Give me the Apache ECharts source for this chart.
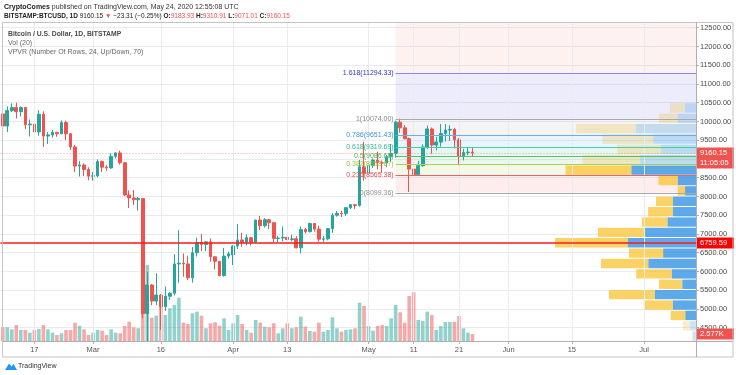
<!DOCTYPE html>
<html><head><meta charset="utf-8">
<script src="https://cdn.jsdelivr.net/npm/echarts@6/dist/echarts.min.js"></script>
<style>html,body{margin:0;padding:0;background:#fff}#c{width:736px;height:375px}</style>
</head><body><div id="c"></div><script>
// ---------- data ----------
const firstDay = [2020, 1, 10];   // Feb 10 2020 (UTC)
const dayCount = 154;             // through Jul 12 2020
const tickDates  = ['2020-02-17','2020-03-01','2020-03-16','2020-04-01','2020-04-13','2020-05-01','2020-05-11','2020-05-21','2020-06-01','2020-06-15','2020-07-01'];
const tickLabels = ['17','Mar','16','Apr','13','May','11','21','Jun','15','Jul'];
const priceTicks = [4500,5000,5500,6000,6500,7000,7500,8000,8500,9000,9500,10000,10500,11000,11500,12000,12500];

const opens  = [10200,9880,10290,10370,10260,10370,9910,9930,9720,10190,9610,9640,9710,9670,9970,9670,9320,8810,8840,8720,
  8540,8550,8930,8780,8760,9070,9160,8900,8040,7960,7910,7945,4880,5640,5210,5370,5060,5340,5420,6200,
  6220,6200,5830,6500,6770,6720,6790,6390,6270,5890,6410,6440,6680,6840,6780,6900,6780,7370,7220,7380,
  7300,6880,6890,6910,6850,6870,6630,7120,7060,7280,7130,6860,6870,7140,7500,7550,7540,7700,7780,7760,
  8790,8620,8830,8970,8900,8890,9060,9150,9980,9830,9540,8730,8580,8820,9320,9800,9370,9450,9680,9770,
  9790,9510,9080,9170,9183.93];
const highs  = [10240,10400,10480,10500,10400,10390,10050,9960,10300,10270,9720,9770,9720,10030,10020,9690,9370,8950,8880,8780,
  8650,8990,8960,8840,9150,9180,9220,8910,8160,8170,7990,7960,5980,5670,5950,5400,5600,5450,6460,7100,
  6480,6420,6650,6900,7000,6790,6880,6400,6280,6630,6530,6700,7260,7030,6990,6910,7380,7480,7420,7400,
  7320,6950,7200,6920,6980,6940,7200,7160,7300,7290,7220,6950,7160,7560,7610,7620,7720,7790,7790,8970,
  9460,9060,9010,9190,8960,9100,9400,10020,10074,9900,9570,8980,8950,9390,9890,9840,9590,9930,9930,9900,
  9830,9560,9270,9320,9310.91];
const lows   = [9730,9720,10250,10080,10130,9800,9600,9480,9620,9320,9400,9570,9590,9660,9500,9240,8650,8530,8540,8430,
  8420,8510,8650,8680,8740,9010,8850,8010,7690,7770,7620,4750,3850,5100,5100,4440,4950,5240,5360,5700,
  5860,5770,5700,6400,6540,6540,6260,6050,5870,5860,6340,6170,6600,6660,6700,6690,6770,7100,7170,7130,
  6780,6780,6800,6570,6800,6620,6480,7010,7040,7060,6790,6790,6830,7030,7460,7450,7480,7660,7670,7730,
  8420,8610,8760,8720,8630,8780,8940,9030,9700,9520,8120,8100,8550,8800,9260,9140,9230,9330,9470,9480,
  9280,8830,8960,9100,9071.01];
const closes = [9880,10290,10370,10260,10370,9910,9930,9720,10190,9610,9640,9710,9670,9970,9670,9320,8810,8840,8720,8540,
  8550,8930,8780,8760,9070,9160,8900,8040,7960,7910,7945,4880,5640,5210,5370,5060,5340,5420,6200,6220,
  6200,5830,6500,6770,6720,6790,6390,6270,5890,6410,6470,6680,6840,6780,6900,6780,7370,7220,7380,7300,
  6880,6890,6910,6850,6870,6630,7120,7060,7280,7130,6860,6870,7140,7500,7550,7540,7700,7780,7760,8790,
  8620,8830,8970,8900,8890,9060,9150,9980,9830,9540,8730,8580,8820,9320,9800,9370,9450,9680,9770,9790,
  9510,9080,9170,9183.93,9160.15];
const volumes = [5040,5040,4300,5890,4050,4050,3050,4050,4420,5890,4300,3050,2210,2830,4050,4050,6730,5630,4300,2210,
  3050,4050,3790,2210,4300,3050,2830,5520,7100,5040,4670,30000,27970,8570,9310,13250,9570,12030,13250,15930,
  6730,6260,10190,10780,9310,4670,6510,6880,5630,8350,4050,6510,9570,6260,4050,3050,7730,6730,5260,5040,
  6510,2830,4670,6510,4670,5040,8940,5260,3680,3420,6730,3420,4050,8720,4670,3420,4050,4300,4670,14090,
  12880,5520,3790,5520,5890,5520,8350,13250,10560,6730,16560,17920,7730,7360,10780,9570,4050,5520,6990,6990,
  6990,9200,4670,3050,2577];

const lastPrice = 9160.15, lastVolume = 2577, countdown = '11:05:05';
const pocPrice = 6759.59;

// Fibonacci retracement drawing
const fibStart = '2020-05-07';
const fibHigh = 10074.00, fibLow = 8099.36;
const fibLevels = [0, 0.236, 0.382, 0.5, 0.618, 0.786, 1, 1.618, 2.618];
const fibColors = ['#8f8f8f','#ea4d4d','#9cc23a','#54b257','#2fb98b','#3f95d8','#8a8a8a','#3535c8','#ea4d4d'];
const fibFills  = [null,'rgba(239,83,80,0.10)','rgba(156,204,60,0.12)','rgba(76,175,80,0.11)','rgba(38,190,150,0.12)',
  'rgba(90,170,230,0.13)','rgba(128,128,128,0.09)','rgba(70,70,210,0.10)','rgba(239,83,80,0.08)'];
const fibLineColors = ['#a8a8a8','#f06262','#a9d35a','#5cc060','#46d0a6','#6aaee2','#a8a8a8','#8a8ae6','#f06262'];

// Volume profile (visible range), 24 rows, values in thousand BTC
const vpHigh = 10500, vpLow = 3858.5, vpRows = 24;
const vpUp   = [5.1,8.5,27.9,19.9,16.3,26.0,30.1,8.5,5.1,10.8,10.8,13.3,23.7,31.8,15.3,22.2,11.3,6.4,19.2,10.8,5.0,2.8,1.4,0.9];
const vpDown = [7.0,8.7,27.9,23.6,20.3,26.8,30.6,9.0,3.4,7.8,11.5,11.8,21.9,33.8,15.9,22.0,16.5,10.8,21.3,13.5,6.8,3.3,0.5,0.5];
const vaFirst = 6, vaLast = 20;

// ---------- build ----------
const F = '"Liberation Sans", Arial, sans-serif';
const dates = [];
for (let i = 0; i < dayCount; i++) {
  dates.push(new Date(Date.UTC(firstDay[0], firstDay[1], firstDay[2] + i)).toISOString().slice(0, 10));
}
const yMin = 4145.3, yMax = 12633.3;
const UP = '#26a69a', DN = '#ef5350';
const clampY = v => Math.min(yMax, Math.max(yMin, v));
const candles = opens.map((o, i) => [o, closes[i], clampY(lows[i]), clampY(highs[i])]);
const volData = volumes.map((v, i) => ({ value: v, itemStyle: { color: closes[i] >= opens[i] ? 'rgba(38,166,154,0.5)' : 'rgba(239,83,80,0.5)' } }));
const fibIdx = dates.indexOf(fibStart);
const fibPrices = fibLevels.map(l => fibLow + l * (fibHigh - fibLow));
const vpStep = (vpHigh - vpLow) / vpRows;
const isTick = (i, v) => tickDates.indexOf(v) >= 0;
const GRID = '#e8ecf2';

const T = (left, top, text, size, weight, color, rich) => ({ left, top, padding: 0, text,
  textStyle: { fontSize: size, fontWeight: weight, color, fontFamily: F, rich } });

const option = {
  animation: false,
  backgroundColor: '#ffffff',
  title: [
    T(4, 3.5, '{b|CryptoComes} published on TradingView.com, May 24, 2020 12:55:08 UTC', 7, 'normal', '#333',
      { b: { fontSize: 7, fontWeight: 'bold', color: '#222', fontFamily: F } }),
    T(4, 12.5, '{b|BITSTAMP:BTCUSD, 1D} 9160.15 {r|▼} −23.31 (−0.25%) {b|O:}{r|9183.93} {b|H:}{r|9310.91} {b|L:}{r|9071.01} {b|C:}{r|9160.15}', 6.5, 'normal', '#222',
      { b: { fontSize: 6.5, fontWeight: 'bold', color: '#222', fontFamily: F }, r: { fontSize: 6.5, color: '#ef5350', fontFamily: F } }),
    T(8, 30.5, 'Bitcoin / U.S. Dollar, 1D, BITSTAMP', 6.8, 'bold', '#4a4a4a'),
    T(8, 39.5, 'Vol (20)', 7, 'normal', '#666'),
    T(8, 48.8, 'VPVR (Number Of Rows, 24, Up/Down, 70)', 7, 'normal', '#666'),
    T(18, 362.5, 'TradingView', 7, 'normal', '#333')
  ],
  grid: { left: 0.5, right: 40, top: 22.7, bottom: 34, containLabel: false },
  xAxis: [
    { type: 'category', data: dates, boundaryGap: true,
      axisLine: { show: false },
      axisTick: { show: true, alignWithLabel: true, interval: isTick, length: 3, lineStyle: { color: '#b0b0b0' } },
      axisLabel: { interval: isTick, formatter: v => tickLabels[tickDates.indexOf(v)], color: '#555', fontSize: 7.5, fontFamily: F, margin: 5 },
      splitLine: { show: false } },
    { type: 'value', min: 0, max: 323.6, inverse: true, show: false }
  ],
  yAxis: [
    { type: 'value', position: 'right', min: yMin, max: yMax,
      axisLine: { show: false },
      axisTick: { show: true, customValues: priceTicks, length: 3, lineStyle: { color: '#b0b0b0' } },
      axisLabel: { customValues: priceTicks, formatter: v => v.toFixed(2), color: '#4a4a4a', fontSize: 7.5, fontFamily: F, margin: 4 },
      splitLine: { show: true, lineStyle: { color: GRID, width: 1 } } },
    { type: 'value', min: 0, max: 117000, show: false }
  ],
  series: [
    { type: 'line', name: 'vgrid', xAxisIndex: 0, yAxisIndex: 0, data: [], z: 0, silent: true,
      markLine: { silent: true, symbol: ['none', 'none'], animation: false, label: { show: false },
        lineStyle: { color: GRID, width: 1, type: 'solid' },
        data: tickDates.map(d => ({ xAxis: d })) } },
    { type: 'custom', name: 'fibBands', xAxisIndex: 0, yAxisIndex: 0, z: 1, silent: true,
      encode: { x: 0, y: 1 },
      data: fibPrices.slice(0, -1).map((p, k) => [fibIdx, p, k]),
      renderItem: (params, api) => {
        const k = api.value(2), cs = params.coordSys;
        const p0 = api.coord([api.value(0), fibPrices[k]]);
        const p1 = api.coord([api.value(0), fibPrices[k + 1]]);
        const xL = p0[0], xR = cs.x + cs.width;
        const yB = Math.min(p0[1], cs.y + cs.height), yT = Math.max(p1[1], cs.y);
        if (yB <= yT) return null;
        return { type: 'rect', shape: { x: xL, y: yT, width: xR - xL, height: yB - yT }, style: { fill: fibFills[k + 1] } };
      } },
    { type: 'bar', name: 'Vol', xAxisIndex: 0, yAxisIndex: 1, data: volData, barWidth: '80%', z: 2, silent: true,
      markLine: { silent: true, symbol: ['none', 'none'], animation: false,
        data: [{ yAxis: lastVolume, lineStyle: { color: 'rgba(0,0,0,0)', width: 0 },
          label: { show: true, position: 'end', distance: 1, formatter: '2.577K', backgroundColor: '#ef5350', color: '#fff',
            fontSize: 7.5, fontFamily: F, padding: [2, 4, 1, 3], width: 30 } }] } },
    { type: 'candlestick', name: 'BTCUSD', xAxisIndex: 0, yAxisIndex: 0, data: candles, barWidth: '70%', z: 3, clip: true, silent: true,
      itemStyle: { color: UP, color0: DN, borderColor: UP, borderColor0: DN, borderWidth: 1 } },
    { type: 'custom', name: 'VPVR', xAxisIndex: 1, yAxisIndex: 0, z: 4, silent: true,
      encode: { x: 0, y: 1 },
      data: vpUp.map((u, i) => [u, vpHigh - (i + 0.5) * vpStep, i, vpDown[i]]),
      renderItem: (params, api) => {
        const i = api.value(2), up = api.value(0), dn = api.value(3), cs = params.coordSys;
        const hi = vpHigh - i * vpStep, lo = hi - vpStep;
        let yT = api.coord([0, hi])[1] + 0.5, yB = api.coord([0, lo])[1] - 0.5;
        yT = Math.max(yT, cs.y); yB = Math.min(yB, cs.y + cs.height);
        if (yB <= yT) return null;
        const xR = api.coord([0, hi])[0], xU = api.coord([up, hi])[0], xD = api.coord([up + dn, hi])[0];
        const va = i >= vaFirst && i <= vaLast;
        return { type: 'group', children: [
          { type: 'rect', shape: { x: xU, y: yT, width: xR - xU, height: yB - yT }, style: { fill: va ? 'rgba(40,140,225,0.75)' : 'rgba(40,140,225,0.24)' } },
          { type: 'rect', shape: { x: xD, y: yT, width: xU - xD, height: yB - yT }, style: { fill: va ? 'rgba(250,195,50,0.75)' : 'rgba(235,190,70,0.28)' } }
        ] };
      } },
    { type: 'custom', name: 'fibLines', xAxisIndex: 0, yAxisIndex: 0, z: 6, silent: true,
      encode: { x: 0, y: 1 },
      data: fibPrices.map((p, k) => [fibIdx, p, k]).filter(d => d[1] < yMax),
      renderItem: (params, api) => {
        const k = api.value(2), cs = params.coordSys, p = fibPrices[k];
        const pt = api.coord([api.value(0), p]);
        const x0 = pt[0], x1 = cs.x + cs.width, y = Math.round(pt[1]) + 0.5;
        return { type: 'group', children: [
          { type: 'line', shape: { x1: x0, y1: y, x2: x1, y2: y }, style: { stroke: fibLineColors[k], lineWidth: 1 } },
          { type: 'text', x: x0 - 2, y: y, style: { text: String(fibLevels[k]) + '(' + p.toFixed(2) + ')', fill: fibColors[k],
              align: 'right', verticalAlign: 'middle', fontSize: 7, fontFamily: F } }
        ] };
      } },
    { type: 'line', name: 'levels', xAxisIndex: 0, yAxisIndex: 0, data: [], z: 7, silent: true,
      markLine: { silent: true, symbol: ['none', 'none'], animation: false,
        data: [
          { yAxis: lastPrice, lineStyle: { color: 'rgba(0,0,0,0)', width: 0 },
            label: { show: true, position: 'end', distance: 1, formatter: countdown, verticalAlign: 'top', backgroundColor: '#ef5350',
              color: '#fff', fontSize: 7.5, fontFamily: F, padding: [6, 4, 1.5, 3], width: 30 } },
          { yAxis: lastPrice, lineStyle: { color: 'rgba(239,83,80,0.55)', width: 1, type: [1, 2] },
            label: { show: true, position: 'end', distance: 1, formatter: lastPrice.toFixed(2), backgroundColor: '#ef5350',
              color: '#fff', fontSize: 7.5, fontFamily: F, padding: [2, 4, 1, 3], width: 30 } },
          { yAxis: pocPrice, lineStyle: { color: '#ff1a1a', width: 1.5, type: 'solid' },
            label: { show: true, position: 'end', distance: 1, formatter: pocPrice.toFixed(2), backgroundColor: '#ff0000',
              color: '#fff', fontSize: 7.5, fontFamily: F, padding: [2, 4, 1, 3], width: 30 } }
        ] } }
  ],
  graphic: [
    { type: 'rect', silent: true, z: 100, shape: { x: 2.5, y: 22.5, width: 730.5, height: 334.5 }, style: { fill: 'none', stroke: '#c4c4c4', lineWidth: 1 } },
    { type: 'line', silent: true, z: 100, shape: { x1: 696.5, y1: 22.5, x2: 696.5, y2: 357 }, style: { stroke: '#b0b0b0', lineWidth: 1 } },
    { type: 'line', silent: true, z: 100, shape: { x1: 2.5, y1: 341.5, x2: 733, y2: 341.5 }, style: { stroke: '#b0b0b0', lineWidth: 1 } },
    { type: 'polygon', silent: true, z: 100, shape: { points: [[5, 370], [9, 363.5], [11.5, 366.5], [13.5, 364], [17, 370]] }, style: { fill: '#2196f3' } }
  ]
};
const chart = echarts.init(document.getElementById('c'), null, { renderer: 'canvas', width: 736, height: 375 });
chart.setOption(option);
</script></body></html>
